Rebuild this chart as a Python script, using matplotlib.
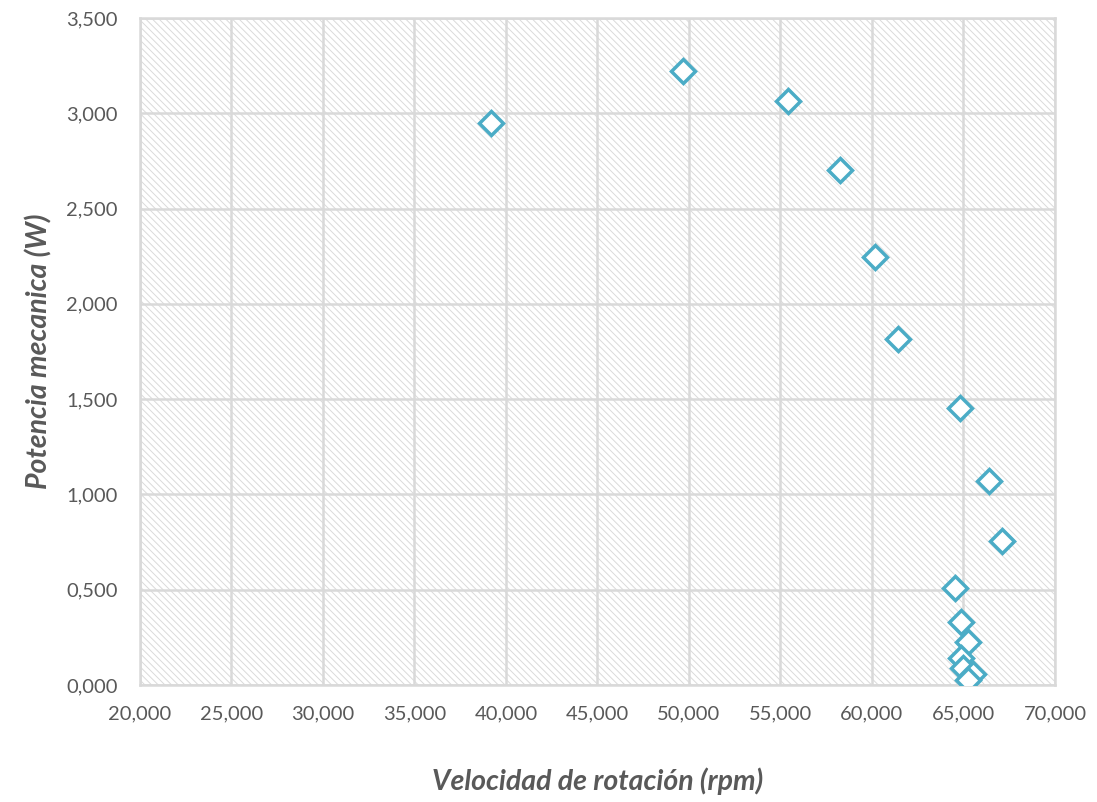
import matplotlib.pyplot as plt
from matplotlib.ticker import FuncFormatter, MultipleLocator

# Velocidad de rotación (x, in thousands) and Potencia mecanica
velocidad = [39.18, 49.67, 55.41, 58.25, 60.16, 61.42, 64.81, 66.39, 67.10,
             64.54, 64.86, 65.25, 64.86, 64.97, 65.52, 65.25]
potencia = [2.949, 3.221, 3.064, 2.702, 2.246, 1.815, 1.453, 1.070, 0.755,
            0.509, 0.331, 0.226, 0.142, 0.089, 0.058, 0.026]

x_label = "Velocidad de rotación (rpm)"
y_label = "Potencia mecanica (W)"

plt.rcParams['font.family'] = ['Lato', 'DejaVu Sans']
plt.rcParams['hatch.linewidth'] = 0.7
plt.rcParams['hatch.color'] = '#dadada'

fig = plt.figure(figsize=(10.97, 8.02), dpi=100)
ax = fig.add_axes([0.1276, 0.1459, 0.9617 - 0.1276, 0.9776 - 0.1459])

# hatched plot area
ax.patch.set_facecolor('white')
ax.patch.set_hatch('\\' * 5)
ax.patch.set_edgecolor('#dadada')

ax.plot(velocidad, potencia, linestyle='none', marker='D', markersize=12.5,
        markerfacecolor='white', markeredgecolor='#4bacc6', markeredgewidth=2.5,
        zorder=3)

ax.set_xlim(20, 70)
ax.set_ylim(0, 3.5)
ax.xaxis.set_major_locator(MultipleLocator(5))
ax.yaxis.set_major_locator(MultipleLocator(0.5))
fmt = FuncFormatter(lambda v, p: f"{v:.3f}".replace('.', ','))
ax.xaxis.set_major_formatter(fmt)
ax.yaxis.set_major_formatter(fmt)

ax.grid(True, color='#d9d9d9', linewidth=1.8, zorder=1)
ax.set_axisbelow(True)
for s in ax.spines.values():
    s.set_color('#d9d9d9')
    s.set_linewidth(1.8)

ax.tick_params(length=0, labelsize=14.5, labelcolor='#595959')
ax.tick_params(axis='y', pad=16)
ax.tick_params(axis='x', pad=15)
ax.set_xlabel(x_label, fontsize=20.5, fontweight='bold', fontstyle='italic',
              color='#595959', labelpad=32)
ax.set_ylabel(y_label, fontsize=20.5, fontweight='bold', fontstyle='italic',
              color='#595959', labelpad=10)

fig.savefig('out.png', dpi=100)
